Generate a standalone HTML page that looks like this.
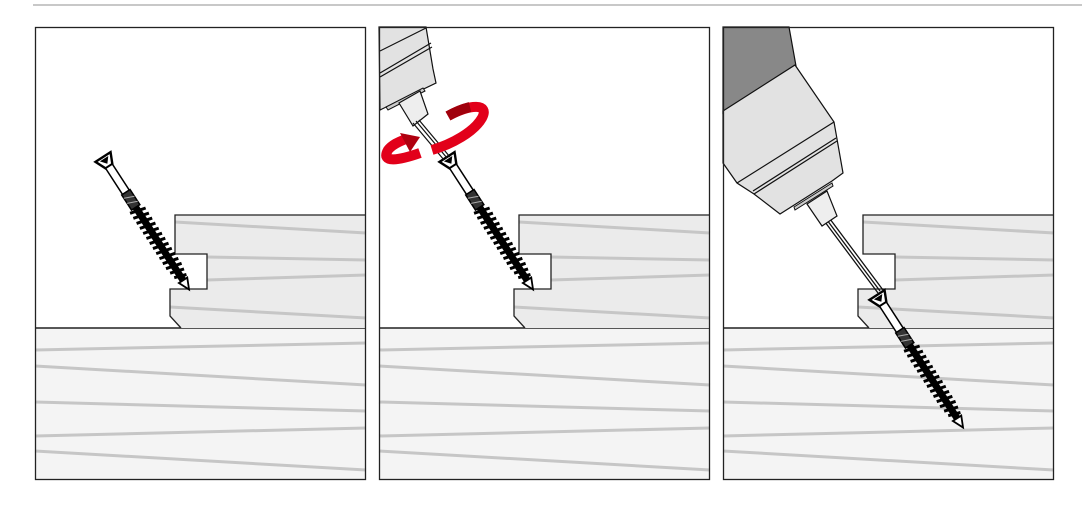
<!DOCTYPE html>
<html><head><meta charset="utf-8"><style>html,body{margin:0;padding:0;background:#fff;width:1082px;height:513px;overflow:hidden}</style></head>
<body>
<svg width="1082" height="513" viewBox="0 0 1082 513" xmlns="http://www.w3.org/2000/svg">
<defs>
<g id="boards">
  <rect x="0" y="0" width="331" height="453" fill="#fff"/>
  <rect x="0" y="301" width="331" height="152" fill="#f4f4f4"/>
  <g stroke="#c6c6c6" stroke-width="3" fill="none">
    <line x1="0" y1="323" x2="331" y2="316"/>
    <line x1="0" y1="339" x2="331" y2="358"/>
    <line x1="0" y1="375" x2="331" y2="384"/>
    <line x1="0" y1="409" x2="331" y2="401"/>
    <line x1="0" y1="424" x2="331" y2="443"/>
  </g>
  <line x1="0" y1="301" x2="331" y2="301" stroke="#222" stroke-width="1.5"/>
  <path d="M140,188 H331 V301 H146 L135,289 V262 H172 V227 H140 Z" fill="#ebebeb"/>
  <g stroke="#c6c6c6" stroke-width="3" fill="none">
    <line x1="140" y1="195" x2="331" y2="206"/>
    <line x1="172" y1="230" x2="331" y2="233"/>
    <line x1="172" y1="253" x2="331" y2="248"/>
    <line x1="135" y1="280" x2="331" y2="291"/>
  </g>
  <path d="M331,188 H140 V227 H172 V262 H135 V289 L146,301" fill="none" stroke="#222" stroke-width="1.3"/>
</g>
<g id="screw">
  <path d="M-9,0 L9,0 L4,11 L-4,11 Z" fill="#fff" stroke="#000" stroke-width="2.4"/>
  <path d="M-5,2 L5,2 L0,8 Z" fill="#000"/>
  <rect x="-4" y="11" width="8" height="31" fill="#fff" stroke="#000" stroke-width="1.5"/>
  <rect x="-5" y="42" width="10" height="18" fill="#333" stroke="#000" stroke-width="1.5"/>
  <path d="M-5,46 L5,50 M-5,52 L5,56" stroke="#aaa" stroke-width="1"/>
  <rect x="-3.5" y="60" width="7" height="88" fill="#000"/>
  <path d="M-8,62 L8,66 M-8,68 L8,72 M-8,74 L8,78 M-8,80 L8,84 M-8,86 L8,90 M-8,92 L8,96 M-8,98 L8,102 M-8,104 L8,108 M-8,110 L8,114 M-8,116 L8,120 M-8,122 L8,126 M-8,128 L8,132 M-7,134 L7,138 M-6,140 L6,144" stroke="#000" stroke-width="3"/>
  <path d="M-5,147 L5,147 L0,158 Z" fill="#fff" stroke="#000" stroke-width="1.8"/>
</g>
</defs>

<line x1="33" y1="5" x2="1082" y2="5" stroke="#c8c8c8" stroke-width="2"/>

<!-- Panel 1 -->
<g transform="translate(35,27)"><use href="#boards"/></g>
<g transform="translate(103,157) rotate(-33)"><use href="#screw"/></g>
<rect x="35.5" y="27.5" width="330" height="452" fill="none" stroke="#222" stroke-width="1.3"/>

<!-- Panel 2 -->
<g transform="translate(379,27)"><use href="#boards"/></g>
<g transform="translate(447,157) rotate(-33)"><use href="#screw"/></g>
<!-- drill 2 -->
<path d="M379,27 L426,27 L433,69 L436,83 L380,110 Z" fill="#e2e2e2" stroke="#111" stroke-width="1.2"/>
<path d="M380,51 L426,28 M380,73 L431,43 M380,77 L432,47" stroke="#111" stroke-width="1.2" fill="none"/>
<path d="M386,107 L423,88 L425,91 L388,110 Z" fill="#ccc" stroke="#111" stroke-width="1"/>
<path d="M399,103 L420,91 L428,114 L413,126 Z" fill="#eee" stroke="#111" stroke-width="1.2"/>
<path d="M413,123 L444,160 M419,120 L450,157 M416,121 L447,158" stroke="#111" stroke-width="1.2" fill="none"/>
<!-- red rotation arrow -->
<g fill="none" stroke-linecap="butt">
  <path d="M448,116 C470,104 490,103 482,118 C474,132 452,144 432,150" stroke="#e2001a" stroke-width="10"/>
  <path d="M448,116 C455,112 462,109 470,107" stroke="#a0000c" stroke-width="10"/>
  <path d="M420,153 C400,160 380,164 388,150 C392,145 398,142 406,139" stroke="#e2001a" stroke-width="10"/>
</g>
<path d="M400,133 L420,137 L410,152 Z" fill="#b0000f"/>
<rect x="379.5" y="27.5" width="330" height="452" fill="none" stroke="#222" stroke-width="1.3"/>

<!-- Panel 3 -->
<g transform="translate(723,27)"><use href="#boards"/></g>
<!-- bit -->
<path d="M825,222 L878,293 M830,219 L883,290 M827,220 L880,291" stroke="#111" stroke-width="1.3" fill="none"/>
<g transform="translate(877,295) rotate(-33)"><use href="#screw"/></g>
<!-- drill 3 -->
<path d="M723,27 L789,27 L796,66 L723,113 Z" fill="#888" stroke="#111" stroke-width="1.2"/>
<path d="M723,111 L795,65 L834,122 L843,173 L832,181 L780,214 L754,194 L737,183 L723,163 Z" fill="#e2e2e2" stroke="#111" stroke-width="1.2"/>
<path d="M737,183 L834,122 M754,194 L837,141 M753,191 L836,138" stroke="#111" stroke-width="1.2" fill="none"/>
<path d="M794,207 L832,183 L833,186 L795,210 Z" fill="#ccc" stroke="#111" stroke-width="1"/>
<path d="M807,204 L827,191 L837,216 L822,226 Z" fill="#eee" stroke="#111" stroke-width="1.2"/>
<rect x="723.5" y="27.5" width="330" height="452" fill="none" stroke="#222" stroke-width="1.3"/>
</svg>
</body></html>
